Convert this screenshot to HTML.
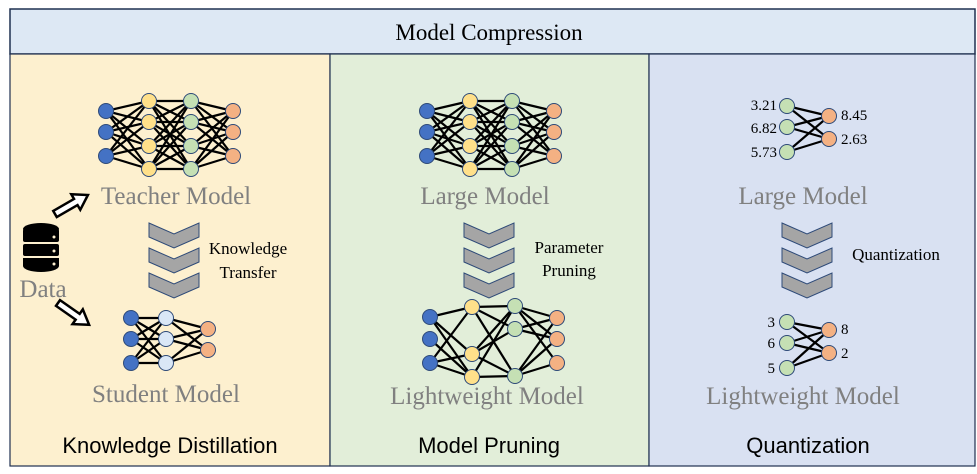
<!DOCTYPE html>
<html><head><meta charset="utf-8"><style>
body{margin:0;background:#fff;width:977px;height:474px;overflow:hidden}
svg{display:block}
.g{font-family:"Liberation Serif",serif;fill:#808080;font-size:25px;text-anchor:middle}
.s{font-family:"Liberation Serif",serif;fill:#000;font-size:17px}
.b{font-family:"Liberation Sans",sans-serif;fill:#000;font-size:22px;text-anchor:middle}
</style></head><body>
<svg id="s" width="977" height="474" xmlns="http://www.w3.org/2000/svg">
<rect x="10" y="9" width="965" height="45" fill="#dde8f4" stroke="#1f3050" stroke-width="1.5"/>
<text x="489" y="40" font-family="Liberation Serif,serif" font-size="23" text-anchor="middle">Model Compression</text>
<rect x="10" y="54" width="320" height="412" fill="#fdf0cf" stroke="#1f3050" stroke-width="1.2"/>
<rect x="330" y="54" width="319" height="412" fill="#e2eed9" stroke="#1f3050" stroke-width="1.2"/>
<rect x="649" y="54" width="326" height="412" fill="#d9e1f2" stroke="#1f3050" stroke-width="1.2"/>
<g id="lines" stroke="#000" stroke-width="2.2"></g>
<g id="nodes" stroke="#2e4a78" stroke-width="1"></g>
<text class="g" x="176" y="204">Teacher Model</text>
<text class="g" x="485" y="204">Large Model</text>
<text class="g" x="803" y="204">Large Model</text>
<text class="g" x="166" y="402">Student Model</text>
<text class="g" x="487" y="404">Lightweight Model</text>
<text class="g" x="803" y="404">Lightweight Model</text>
<text class="g" x="43" y="297">Data</text>
<text class="b" x="170" y="453">Knowledge Distillation</text>
<text class="b" x="489" y="453">Model Pruning</text>
<text class="b" x="808" y="453">Quantization</text>
<text class="s" x="248" y="254" text-anchor="middle">Knowledge</text>
<text class="s" x="248" y="278" text-anchor="middle">Transfer</text>
<text class="s" x="569" y="253" text-anchor="middle">Parameter</text>
<text class="s" x="569" y="276" text-anchor="middle">Pruning</text>
<text class="s" x="896" y="260" text-anchor="middle">Quantization</text>
<g font-family="Liberation Serif,serif" font-size="15" text-anchor="end">
<text x="777" y="110">3.21</text><text x="777" y="133">6.82</text><text x="777" y="157">5.73</text>
<text x="775" y="327">3</text><text x="775" y="348">6</text><text x="775" y="373">5</text>
</g>
<g font-family="Liberation Serif,serif" font-size="15">
<text x="841" y="120">8.45</text><text x="841" y="144">2.63</text>
<text x="841" y="334">8</text><text x="841" y="358">2</text>
</g>
<g fill="#000">
<ellipse cx="41" cy="229" rx="18" ry="6"/>
<rect x="23" y="229" width="36" height="13" rx="2"/>
<rect x="23" y="244" width="36" height="12" rx="2"/>
<path d="M23 258 h36 v8 a18 6 0 0 1 -36 0z"/>
</g>
<g fill="#fdf0cf"><circle cx="54" cy="237" r="1.5"/><circle cx="54" cy="251" r="1.5"/><circle cx="54" cy="264" r="1.5"/></g>
<g fill="#fff" stroke="#000" stroke-width="2.5" stroke-linejoin="miter">
<path d="M0 -3.5 L24 -3.5 L24 -9 L38 0 L24 9 L24 3.5 L0 3.5Z" transform="translate(55,214) rotate(-30)"/>
<path d="M0 -3.5 L24 -3.5 L24 -9 L38 0 L24 9 L24 3.5 L0 3.5Z" transform="translate(58,303) rotate(35)"/>
</g>
<g id="chev" fill="#a5a5a5" stroke="#2e4a78" stroke-width="1"></g>
</svg>
<script>
var NS="http://www.w3.org/2000/svg",L=document.getElementById('lines'),N=document.getElementById('nodes'),C=document.getElementById('chev');
function el(p,t,a){var e=document.createElementNS(NS,t);for(var k in a)e.setAttribute(k,a[k]);p.appendChild(e);}
function ln(a,b){el(L,'line',{x1:a[0],y1:a[1],x2:b[0],y2:b[1]});}
function full(A,B){A.forEach(function(a){B.forEach(function(b){ln(a,b);});});}
function col(x,ys){return ys.map(function(y){return [x,y];});}
function nodes(P,f){P.forEach(function(p){el(N,'circle',{cx:p[0],cy:p[1],r:7.5,fill:f});});}
var BL="#4472c4",YE="#ffe08a",GR="#c5e0b4",OR="#f4b183",LB="#dae7f6";
function big(x0){var a=col(x0,[111,132,156]),b=col(x0+43,[101,122,146,169]),c=col(x0+85,[101,122,146,169]),d=col(x0+127,[111,132,156]);
full(a,b);full(b,c);full(c,d);return [a,b,c,d];}
var t=big(106),l=big(427);
var sa=col(131,[318,339,363]),sb=col(166,[318,339,363]),sc=col(208,[329,350]);full(sa,sb);full(sb,sc);
var pa=col(430,[317,339,363]),pb=col(472,[307,354,377]),pc=col(515,[306,329,376]),pd=col(557,[318,339,363]);
[[0,0],[0,2],[1,2],[2,0],[2,1],[2,2],[0,1]].forEach(function(e){ln(pa[e[0]],pb[e[1]]);});
[[0,0],[0,2],[1,1],[1,0],[2,0],[2,2],[0,1],[1,2]].forEach(function(e){ln(pb[e[0]],pc[e[1]]);});
[[0,0],[0,1],[0,2],[1,0],[1,1],[2,0],[2,2],[2,1]].forEach(function(e){ln(pc[e[0]],pd[e[1]]);});
var qa=col(787,[106,127,152]),qb=col(829,[116,139]);full(qa,qb);
var ra=col(787,[322,343,368]),rb=col(829,[330,353]);full(ra,rb);
[t,l].forEach(function(n){nodes(n[0],BL);nodes(n[1],YE);nodes(n[2],GR);nodes(n[3],OR);});
nodes(sa,BL);nodes(sb,LB);nodes(sc,OR);
nodes(pa,BL);nodes(pb,YE);nodes(pc,GR);nodes(pd,OR);
nodes(qa,GR);nodes(qb,OR);nodes(ra,GR);nodes(rb,OR);
function chev(x,y){el(C,'path',{d:'M'+x+' '+y+' L'+(x+25)+' '+(y+11)+' L'+(x+50)+' '+y+' L'+(x+50)+' '+(y+14)+' L'+(x+25)+' '+(y+25)+' L'+x+' '+(y+14)+'Z'});}
[149,464,782].forEach(function(x){[223,248,273].forEach(function(y){chev(x,y);});});
</script>
</body></html>
